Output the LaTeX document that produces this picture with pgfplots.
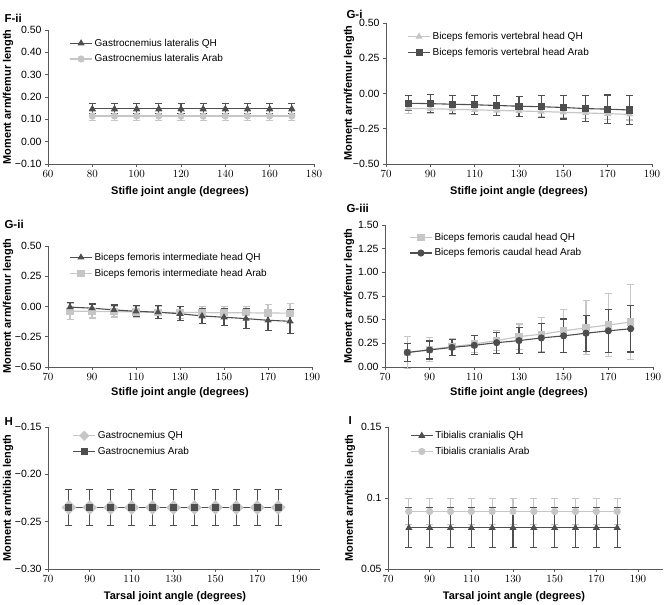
\documentclass[border=0pt]{standalone}
\usepackage{fontspec}
\setmainfont{Liberation Sans}
\usepackage{pgfplots}
\pgfplotsset{compat=1.18}
\definecolor{darkser}{HTML}{4E4E4E}
\definecolor{lightser}{HTML}{C6C6C6}
\definecolor{axgray}{HTML}{5A5A5A}

\pgfplotsset{
  panel/.style={
    scale only axis, anchor=south west,
    axis x line*=bottom, axis y line*=left,
    axis line style={draw=axgray, line width=0.8pt, -},
    every tick/.style={draw=axgray, line width=0.8pt},
    tick align=outside, major tick length=3pt,
    ticklabel style={font=\fontsize{10.5}{12}\selectfont},
    legend style={draw=none, fill=none, anchor=north west,
      font=\fontsize{10}{12}\selectfont, row sep=3pt, inner sep=0pt},
    legend cell align=left,
    legend image code/.code={\draw[mark repeat=2,mark phase=2,##1]
      plot coordinates {(0pt,0pt)(11pt,0pt)(22pt,0pt)};},
    clip=false,
  },
  dk/.style={color=darkser, line width=1.1pt, mark size=3pt, mark options={solid},
    error bars/y dir=both, error bars/y explicit,
    error bars/error bar style={line width=1.1pt, darkser},
    error bars/error mark options={rotate=90, mark size=3.5pt, line width=1.1pt, darkser}},
  lt/.style={color=lightser, line width=1.2pt, mark size=3pt, mark options={solid},
    error bars/y dir=both, error bars/y explicit,
    error bars/error bar style={line width=1.1pt, lightser},
    error bars/error mark options={rotate=90, mark size=3.5pt, line width=1.1pt, lightser}},
}
\newcommand{\lab}{\bfseries\fontsize{11}{13}\selectfont}
\newcommand{\plab}{\bfseries\fontsize{11.5}{13}\selectfont}

\begin{document}
\begin{tikzpicture}
\path[use as bounding box] (0pt,0pt) rectangle (665pt,-605pt);

% F-ii
\begin{axis}[panel, at={(48pt,-164pt)}, width=266pt, height=134pt,
  xmin=60, xmax=180, xtick={60,80,...,180},
  ymin=-0.1, ymax=0.5, ytick={-0.1,0,0.1,0.2,0.3,0.4,0.5},
  yticklabels={−0.10,0.00,0.10,0.20,0.30,0.40,0.50},
  reverse legend,
  legend style={at={(axis description cs:0.08,0.95)}}]
\addplot[lt, mark=*] table[x=x, y=y, y error=e] {
x y e
80 0.115 0.02
90 0.115 0.02
100 0.115 0.02
110 0.115 0.02
120 0.115 0.02
130 0.115 0.02
140 0.115 0.02
150 0.115 0.02
160 0.115 0.02
170 0.115 0.02
};
\addplot[dk, mark=triangle*] table[x=x, y=y, y error=e] {
x y e
80 0.147 0.022
90 0.147 0.022
100 0.147 0.022
110 0.147 0.022
120 0.147 0.022
130 0.147 0.022
140 0.147 0.022
150 0.147 0.022
160 0.147 0.022
170 0.147 0.022
};
\legend{Gastrocnemius lateralis Arab, Gastrocnemius lateralis QH}
\end{axis}

% G-i
\begin{axis}[panel, at={(386pt,-164pt)}, width=266pt, height=141pt,
  xmin=70, xmax=190, xtick={70,90,...,190},
  ymin=-0.5, ymax=0.5, ytick={-0.5,-0.25,0,0.25,0.5},
  yticklabels={−0.50,−0.25,0.00,0.25,0.50},
  legend style={at={(axis description cs:0.08,0.95)}}]
\addplot[lt, mark=triangle*] table[x=x, y=y, y error=e] {
x y e
80 -0.105 0.035
90 -0.108 0.035
100 -0.112 0.035
110 -0.116 0.036
120 -0.120 0.036
130 -0.124 0.037
140 -0.128 0.037
150 -0.133 0.038
160 -0.138 0.038
170 -0.143 0.039
180 -0.148 0.040
};
\addplot[dk, mark=square*] table[x=x, y=y, y error=e] {
x y e
80 -0.069 0.053
90 -0.072 0.062
100 -0.076 0.063
110 -0.080 0.066
120 -0.085 0.070
130 -0.090 0.070
140 -0.094 0.077
150 -0.099 0.082
160 -0.107 0.090
170 -0.111 0.100
180 -0.117 0.105
};
\legend{Biceps femoris vertebral head QH, Biceps femoris vertebral head Arab}
\end{axis}

% G-ii
\begin{axis}[panel, at={(48pt,-367pt)}, width=264pt, height=121pt,
  xmin=70, xmax=190, xtick={70,90,...,190},
  ymin=-0.5, ymax=0.5, ytick={-0.5,-0.25,0,0.25,0.5},
  yticklabels={−0.50,−0.25,0.00,0.25,0.50},
  reverse legend,
  legend style={at={(axis description cs:0.08,0.96)}}]
\addplot[lt, mark=square*] table[x=x, y=y, y error=e] {
x y e
80 -0.040 0.065
90 -0.040 0.055
100 -0.042 0.045
110 -0.045 0.045
120 -0.048 0.050
130 -0.050 0.050
140 -0.050 0.050
150 -0.052 0.050
160 -0.052 0.055
170 -0.054 0.070
180 -0.055 0.080
};
\addplot[dk, mark=triangle*] table[x=x, y=y, y error=e] {
x y e
80 -0.005 0.040
90 -0.014 0.035
100 -0.028 0.040
110 -0.040 0.045
120 -0.047 0.053
130 -0.060 0.057
140 -0.078 0.060
150 -0.089 0.070
160 -0.100 0.080
170 -0.114 0.086
180 -0.122 0.100
};
\legend{Biceps femoris intermediate head Arab, Biceps femoris intermediate head QH}
\end{axis}

% G-iii
\begin{axis}[panel, at={(385pt,-367pt)}, width=268pt, height=142pt,
  xmin=70, xmax=190, xtick={70,90,...,190},
  ymin=0, ymax=1.5, ytick={0,0.25,...,1.5},
  yticklabels={0.00,0.25,0.50,0.75,1.00,1.25,1.50},
  legend style={at={(axis description cs:0.09,0.96)}}]
\addplot[lt, mark=square*] table[x=x, y=y, y error=e] {
x y e
80 0.150 0.170
90 0.186 0.130
100 0.214 0.090
110 0.243 0.090
120 0.279 0.107
130 0.321 0.133
140 0.346 0.180
150 0.382 0.230
160 0.414 0.286
170 0.443 0.336
180 0.475 0.400
};
\addplot[dk, mark=*] table[x=x, y=y, y error=e] {
x y e
80 0.154 0.096
90 0.180 0.095
100 0.207 0.086
110 0.229 0.100
120 0.257 0.110
130 0.279 0.135
140 0.307 0.150
150 0.329 0.178
160 0.357 0.190
170 0.382 0.225
180 0.404 0.246
};
\legend{Biceps femoris caudal head QH, Biceps femoris caudal head Arab}
\end{axis}

% H
\begin{axis}[panel, at={(48pt,-569pt)}, width=272pt, height=142pt,
  xmin=70, xmax=200, xtick={70,90,...,190},
  ymin=-0.3, ymax=-0.15, ytick={-0.3,-0.25,-0.2,-0.15},
  yticklabels={−0.30,−0.25,−0.20,−0.15},
  legend image post style={mark size=3pt},
  legend style={at={(axis description cs:0.09,0.985)}}]
\addplot[lt, mark=square*, mark size=4.6pt, mark options={rotate=45}] table[x=x, y=y, y error=e] {
x y e
80 -0.235 0.019
90 -0.235 0.019
100 -0.235 0.019
110 -0.235 0.019
120 -0.235 0.019
130 -0.235 0.019
140 -0.235 0.019
150 -0.235 0.019
160 -0.235 0.019
170 -0.235 0.019
180 -0.235 0.019
};
\addplot[dk, mark=square*] table[x=x, y=y, y error=e] {
x y e
80 -0.235 0.019
90 -0.235 0.019
100 -0.235 0.019
110 -0.235 0.019
120 -0.235 0.019
130 -0.235 0.019
140 -0.235 0.019
150 -0.235 0.019
160 -0.235 0.019
170 -0.235 0.019
180 -0.235 0.019
};
\legend{Gastrocnemius QH, Gastrocnemius Arab}
\end{axis}

% I
\begin{axis}[panel, at={(388pt,-569pt)}, width=275pt, height=142pt,
  xmin=70, xmax=202, xtick={70,90,...,190},
  ymin=0.05, ymax=0.15, ytick={0.05,0.1,0.15},
  yticklabels={0.05,0.1,0.15},
  reverse legend,
  legend style={at={(axis description cs:0.08,0.985)}}]
\addplot[lt, mark=*] table[x=x, y=y, y error=e] {
x y e
80 0.0905 0.009
90 0.0905 0.009
100 0.0905 0.009
110 0.0905 0.009
120 0.0905 0.009
130 0.0905 0.009
140 0.0905 0.009
150 0.0905 0.009
160 0.0905 0.009
170 0.0905 0.009
180 0.0905 0.009
};
\addplot[dk, mark=triangle*] table[x=x, y=y, y error=e] {
x y e
80 0.079 0.014
90 0.079 0.014
100 0.079 0.014
110 0.079 0.014
120 0.079 0.014
130 0.079 0.014
140 0.079 0.014
150 0.079 0.014
160 0.079 0.014
170 0.079 0.014
180 0.079 0.014
};
\legend{Tibialis cranialis Arab, Tibialis cranialis QH}
\end{axis}

% panel letters
\node[font=\plab, anchor=base west] at (1pt,-22pt) {F-ii};
\node[font=\plab, anchor=base west] at (343pt,-18pt) {G-i};
\node[font=\plab, anchor=base west] at (1pt,-228pt) {G-ii};
\node[font=\plab, anchor=base west] at (343pt,-212pt) {G-iii};
\node[font=\plab, anchor=base west] at (1pt,-425pt) {H};
\node[font=\plab, anchor=base west] at (345pt,-424pt) {I};

% axis titles
\node[font=\lab, rotate=90] at (8pt,-97pt) {Moment arm/femur length};
\node[font=\lab, rotate=90] at (349pt,-93pt) {Moment arm/femur length};
\node[font=\lab, rotate=90] at (8pt,-306pt) {Moment arm/femur length};
\node[font=\lab, rotate=90] at (349pt,-296pt) {Moment arm/femur length};
\node[font=\lab, rotate=90] at (8pt,-498pt) {Moment arm/tibia length};
\node[font=\lab, rotate=90] at (350pt,-498pt) {Moment arm/tibia length};

\node[font=\lab] at (180pt,-192pt) {Stifle joint angle (degrees)};
\node[font=\lab] at (519pt,-192pt) {Stifle joint angle (degrees)};
\node[font=\lab] at (180pt,-393pt) {Stifle joint angle (degrees)};
\node[font=\lab] at (519pt,-393pt) {Stifle joint angle (degrees)};
\node[font=\lab] at (175pt,-597pt) {Tarsal joint angle (degrees)};
\node[font=\lab] at (514pt,-597pt) {Tarsal joint angle (degrees)};
\end{tikzpicture}
\end{document}
